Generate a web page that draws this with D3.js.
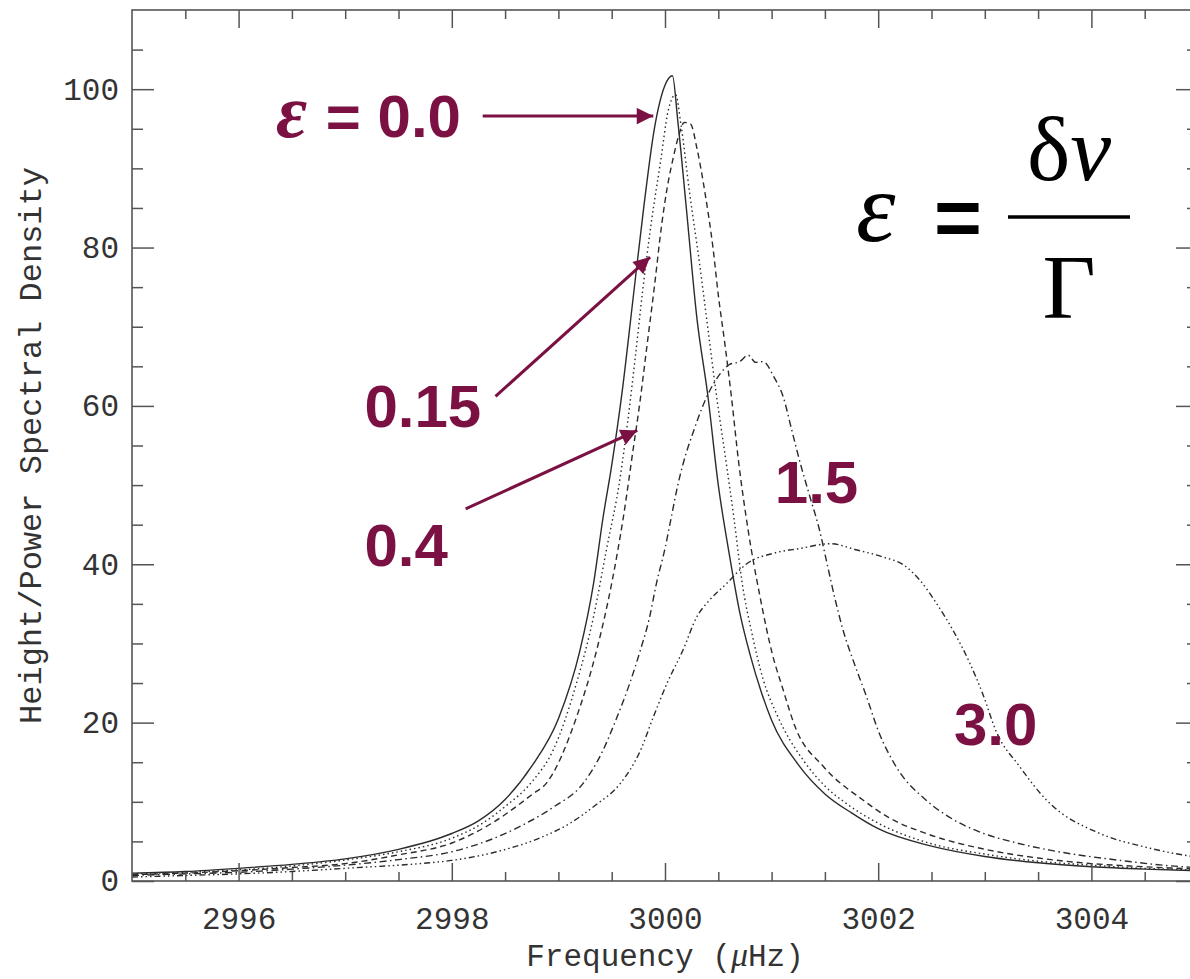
<!DOCTYPE html>
<html>
<head>
  <style>
    body { margin: 0; background: white; }
    .tick text { font-family: "Liberation Mono", monospace; font-size: 31px; fill: #333; }
    .tick line { stroke: #555; stroke-width: 1.5; }
    .axis-title { font-family: "Liberation Mono", monospace; font-size: 31px; fill: #333; }
    .note { font-family: "Liberation Sans", Arial, sans-serif; font-weight: bold; font-size: 60px; fill: #7b1142; }
    .curve { fill: none; stroke: #2b2b2b; stroke-width: 1.4; }
  </style>
</head>
<body>
  <div id="chart"></div>

  <script src="https://cdnjs.cloudflare.com/ajax/libs/d3/7.8.5/d3.min.js"></script>
  <script>
    // curves: [frequency µHz, height]
    const eps00 = [[2995.0,1.0],[2995.5,1.2],[2996.0,1.6],[2996.5,2.1],[2997.0,2.8],[2997.5,4.0],[2998.0,6.0],[2998.25,7.6],[2998.5,10.3],[2998.75,14.5],[2999.0,20.5],[2999.2,29],[2999.33,37.6],[2999.42,46],[2999.5,52.5],[2999.6,62],[2999.7,73.5],[2999.8,85],[2999.9,95],[3000.0,100.5],[3000.07,101.7],[3000.12,96],[3000.2,85],[3000.3,71],[3000.4,61.5],[3000.5,50],[3000.6,41.5],[3000.7,34],[3000.8,28.5],[3000.9,24],[3001.0,20.3],[3001.25,14.7],[3001.5,11],[3001.75,8.6],[3002.0,6.6],[3002.5,4.4],[3003.0,3.1],[3003.5,2.3],[3004.0,1.8],[3004.5,1.5],[3005.0,1.3]];
    const eps015 = [[2995.0,0.9],[2995.5,1.1],[2996.0,1.4],[2996.5,1.9],[2997.0,2.65],[2997.5,3.7],[2998.0,5.4],[2998.3,7.4],[2998.5,9.4],[2998.75,12.5],[2998.95,16.5],[2999.17,25],[2999.33,33.4],[2999.45,41.8],[2999.58,51],[2999.65,58],[2999.72,66],[2999.79,74.5],[2999.87,83],[2999.96,91],[3000.03,97.3],[3000.1,99.3],[3000.15,95.5],[3000.23,87],[3000.32,78.4],[3000.4,70],[3000.48,61.6],[3000.57,53.2],[3000.65,45.5],[3000.72,38],[3000.82,31],[3000.92,25.5],[3001.05,21],[3001.3,15.2],[3001.5,12],[3001.7,9.8],[3002.0,7.3],[3002.5,4.7],[3003.0,3.4],[3003.5,2.5],[3004.0,2.0],[3004.5,1.6],[3005.0,1.4]];
    const eps04 = [[2995.0,0.8],[2995.5,1.0],[2996.0,1.3],[2996.5,1.7],[2997.0,2.2],[2997.5,3.3],[2998.0,4.8],[2998.4,7.5],[2998.75,10.9],[2998.89,12.4],[2999.17,20.7],[2999.36,29.2],[2999.5,37.6],[2999.61,46],[2999.7,54.4],[2999.76,60],[2999.83,67.5],[2999.9,75],[2999.97,83],[3000.02,87.5],[3000.08,91.5],[3000.13,94.2],[3000.18,95.8],[3000.24,95.6],[3000.3,92.5],[3000.38,86.5],[3000.45,80],[3000.5,74],[3000.56,68],[3000.62,61.5],[3000.69,53],[3000.78,44.3],[3000.89,36],[3001.01,28.5],[3001.1,24.5],[3001.22,19.5],[3001.49,14.4],[3001.86,10.2],[3002.1,8],[3002.45,6.0],[3003.04,3.9],[3003.5,2.9],[3004.0,2.2],[3004.5,1.8],[3005.0,1.5]];
    const eps15 = [[2995.0,0.7],[2995.5,0.9],[2996.0,1.1],[2996.5,1.5],[2997.0,2.0],[2997.5,2.7],[2998.0,3.7],[2998.3,4.9],[2998.64,6.9],[2998.95,9.3],[2999.23,12.3],[2999.4,16],[2999.55,20.7],[2999.67,25],[2999.77,29.2],[2999.85,33],[2999.92,37.6],[3000.0,42],[3000.06,46],[3000.12,50],[3000.17,52.7],[3000.27,56.9],[3000.39,61.1],[3000.52,64.1],[3000.6,65.2],[3000.7,65.6],[3000.78,66.4],[3000.85,65.5],[3000.92,65.6],[3001.02,63.7],[3001.11,61.1],[3001.19,56.9],[3001.27,52.7],[3001.36,48.5],[3001.45,44.3],[3001.52,40.1],[3001.59,35.9],[3001.67,31.7],[3001.78,27.3],[3001.89,23.3],[3002.0,19],[3002.17,14.4],[3002.45,10.2],[3002.7,7.8],[3002.99,6.0],[3003.3,4.8],[3003.61,3.9],[3004.24,2.65],[3004.86,1.8],[3005.0,1.7]];
    const eps30 = [[2995.0,0.5],[2995.5,0.7],[2996.0,0.9],[2996.5,1.2],[2997.0,1.6],[2997.7,2.2],[2998.0,2.6],[2998.48,3.9],[2998.8,5.3],[2999.11,7.3],[2999.35,9.6],[2999.58,12.3],[2999.77,16.5],[2999.89,20.7],[3000.02,25],[3000.17,29.2],[3000.3,33.4],[3000.42,35.5],[3000.58,37.6],[3000.77,40.1],[3001.02,41.4],[3001.27,42],[3001.55,42.6],[3001.8,41.8],[3002.05,40.9],[3002.24,39.9],[3002.39,38],[3002.55,35],[3002.7,31.7],[3002.86,27.5],[3002.99,23.3],[3003.1,19.1],[3003.33,14.4],[3003.58,10.2],[3004.08,6.0],[3004.5,4.3],[3004.77,3.5],[3005.0,3.0]];

    const seriesNames = ["0.0", "0.15", "0.4", "1.5", "3.0"];
    const xTicks = [2996, 2998, 3000, 3002, 3004];
    const yTicks = [0, 20, 40, 60, 80, 100];

    const width = 1190, height = 979;
    const margin = { top: 10, right: -8, bottom: 98, left: 132 };

    const svg = d3.select("#chart").append("svg")
      .attr("width", width)
      .attr("height", height);

    const x = d3.scaleLinear().domain([2995, 3005]).range([margin.left, width - margin.right]);
    const y = d3.scaleLinear().domain([0, 110]).range([height - margin.bottom, margin.top]);

    const x0 = margin.left, x1 = width - margin.right;
    const y0 = height - margin.bottom, y1 = margin.top;

    svg.append("clipPath").attr("id", "plot")
      .append("rect").attr("x", x0).attr("y", y1).attr("width", x1 - x0).attr("height", y0 - y1);

    // line styles in the order of seriesNames
    const dashes = [null, "1.5,3", "6,4", "7,3.5,1.5,3.5", "6,3,1.5,3,1.5,3,1.5,3"];
    const series = [eps00, eps015, eps04, eps15, eps30];

    const line = d3.line()
      .x(d => x(d[0]))
      .y(d => y(d[1]))
      .curve(d3.curveMonotoneX);

    svg.append("g").attr("clip-path", "url(#plot)")
      .selectAll("path")
      .data(series)
      .join("path")
      .attr("class", "curve")
      .attr("stroke-dasharray", (d, i) => dashes[i])
      .attr("d", line);

    // frame
    svg.append("rect")
      .attr("x", x0).attr("y", y1)
      .attr("width", x1 - x0).attr("height", y0 - y1)
      .attr("fill", "none").attr("stroke", "#555").attr("stroke-width", 1.6);

    const xMinor = d3.range(2995.5, 3005, 0.5).filter(v => !xTicks.includes(v));
    const yMinor = d3.range(5, 110, 5).filter(v => !yTicks.includes(v));

    function addAxis(axis, tx, ty) {
      const g = svg.append("g").attr("transform", `translate(${tx},${ty})`).call(axis);
      g.select(".domain").remove();
      return g;
    }

    // bottom / top
    addAxis(d3.axisBottom(x).tickValues(xTicks).tickSizeInner(-18).tickSizeOuter(0).tickPadding(26).tickFormat(d3.format("d")), 0, y0);
    addAxis(d3.axisBottom(x).tickValues(xMinor).tickSizeInner(-9).tickSizeOuter(0).tickFormat(""), 0, y0);
    addAxis(d3.axisTop(x).tickValues(xTicks).tickSizeInner(-18).tickSizeOuter(0).tickFormat(""), 0, y1);
    addAxis(d3.axisTop(x).tickValues(xMinor).tickSizeInner(-9).tickSizeOuter(0).tickFormat(""), 0, y1);
    // left / right
    addAxis(d3.axisLeft(y).tickValues(yTicks).tickSizeInner(-22).tickSizeOuter(0).tickPadding(13), x0, 0);
    addAxis(d3.axisLeft(y).tickValues(yMinor).tickSizeInner(-11).tickSizeOuter(0).tickFormat(""), x0, 0);
    addAxis(d3.axisRight(y).tickValues(yTicks).tickSizeInner(-22).tickSizeOuter(0).tickFormat(""), x1, 0);
    addAxis(d3.axisRight(y).tickValues(yMinor).tickSizeInner(-11).tickSizeOuter(0).tickFormat(""), x1, 0);

    // axis titles
    const xt = svg.append("text").attr("class", "axis-title")
      .attr("x", x(3000)).attr("y", 966).attr("text-anchor", "middle");
    xt.append("tspan").text("Frequency (");
    xt.append("tspan").attr("font-family", "Liberation Serif").attr("font-style", "italic").attr("font-size", 34).text("μ");
    xt.append("tspan").text("Hz)");

    svg.append("text").attr("class", "axis-title")
      .attr("font-size", 32)
      .attr("transform", `translate(41,${(y0 + y1) / 2 + 0}) rotate(-90)`)
      .attr("text-anchor", "middle")
      .style("font-size", "32px")
      .text("Height/Power Spectral Density");

    // annotations
    const maroon = "#7b1142";
    svg.append("defs").append("marker")
      .attr("id", "head").attr("viewBox", "0 0 10 10")
      .attr("refX", 10).attr("refY", 5)
      .attr("markerWidth", 6.5).attr("markerHeight", 5.5)
      .attr("markerUnits", "strokeWidth")
      .attr("orient", "auto")
      .append("path").attr("d", "M0,0L10,5L0,10z").attr("fill", maroon);

    const arrows = [
      [[2998.29, 96.6], [2999.89, 96.6]],
      [[2998.41, 61.2], [2999.86, 78.8]],
      [[2998.13, 47.0], [2999.74, 56.9]]
    ];
    svg.selectAll(".arrow").data(arrows).join("line")
      .attr("class", "arrow")
      .attr("x1", d => x(d[0][0])).attr("y1", d => y(d[0][1]))
      .attr("x2", d => x(d[1][0])).attr("y2", d => y(d[1][1]))
      .attr("stroke", maroon).attr("stroke-width", 3)
      .attr("marker-end", "url(#head)");

    const first = svg.append("text").attr("class", "note").attr("x", 276).attr("y", 137);
    first.append("tspan").attr("font-family", "Liberation Serif").attr("font-style", "italic").attr("font-size", 76).text("ε");
    first.append("tspan").attr("dx", 2).text(" = " + seriesNames[0]);

    const labels = [
      { t: seriesNames[1], x: 2997.18, y: 57.3 },
      { t: seriesNames[2], x: 2997.18, y: 39.8 },
      { t: seriesNames[3], x: 3001.03, y: 47.8 },
      { t: seriesNames[4], x: 3002.71, y: 17.2 }
    ];
    svg.selectAll(".lab").data(labels).join("text")
      .attr("class", "note lab")
      .attr("x", d => x(d.x)).attr("y", d => y(d.y))
      .text(d => d.t);

    // formula
    svg.append("text").attr("x", 856).attr("y", 241)
      .attr("font-family", "Liberation Serif").attr("font-style", "italic").attr("font-size", 100)
      .attr("fill", "#000").text("ε");
    svg.append("text").attr("x", 934).attr("y", 246)
      .attr("font-family", "Liberation Sans").attr("font-weight", "bold").attr("font-size", 82)
      .attr("fill", "#000").text("=");
    svg.append("line").attr("x1", 1008).attr("x2", 1130).attr("y1", 217).attr("y2", 217)
      .attr("stroke", "#000").attr("stroke-width", 3.5);
    const num = svg.append("text").attr("x", 1069).attr("y", 180).attr("text-anchor", "middle")
      .attr("font-family", "Liberation Serif").attr("font-size", 92).attr("fill", "#000");
    num.append("tspan").text("δ");
    num.append("tspan").attr("font-style", "italic").text("ν");
    svg.append("text").attr("x", 1069).attr("y", 318).attr("text-anchor", "middle")
      .attr("font-family", "Liberation Serif").attr("font-size", 92).attr("fill", "#000").text("Γ");
  </script>
</body>
</html>
